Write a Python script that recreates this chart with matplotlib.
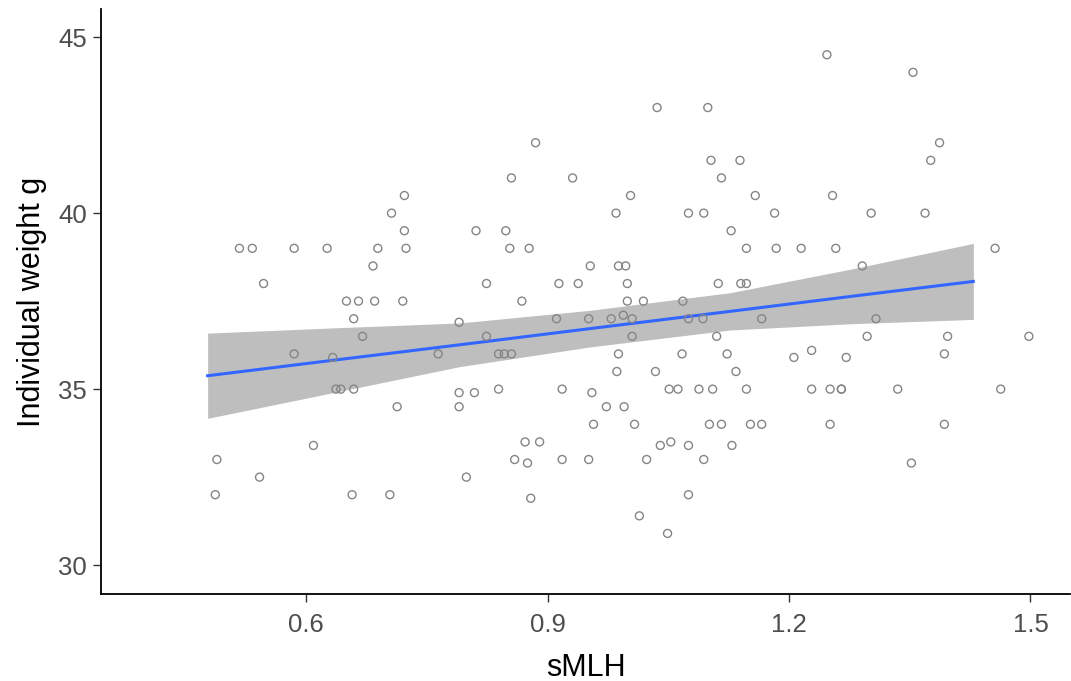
import numpy as np
import matplotlib.pyplot as plt

plt.rcParams['font.family'] = ['Liberation Sans', 'DejaVu Sans']

# sMLH vs individual weight (g)
smlh = [0.722, 0.706, 0.722, 0.517, 0.533, 0.585, 0.626, 0.689, 0.724, 0.683,
        0.547, 0.650, 0.665, 0.685, 0.720, 0.659, 0.670, 0.585, 0.633, 0.637,
        0.643, 0.659, 0.713, 0.609, 0.489, 0.542, 0.487, 0.657, 0.704,
        1.036, 1.099, 0.885, 0.855, 0.931, 1.103, 1.116, 1.003, 0.985, 1.075,
        1.094, 1.128, 0.811, 0.848, 0.853, 0.877, 0.953, 0.988, 0.997, 0.824,
        0.914, 0.938, 0.999, 1.112, 0.868, 0.999, 1.019, 1.068, 0.790, 0.911,
        0.951, 0.979, 0.994, 1.005, 1.075, 1.093, 0.824, 1.005, 1.110, 0.764,
        0.839, 0.846, 0.855, 0.988, 1.067, 1.123, 0.986, 1.034, 0.790, 0.809,
        0.839, 0.918, 0.955, 1.051, 1.062, 1.088, 1.105, 0.790, 0.973, 0.995,
        0.957, 1.008, 1.101, 1.116, 0.872, 0.890, 1.040, 1.053, 1.075, 1.129,
        0.859, 0.875, 0.918, 0.951, 1.023, 1.094, 0.799, 0.879, 1.075, 1.014,
        1.049,
        1.247, 1.354, 1.387, 1.376, 1.139, 1.158, 1.254, 1.182, 1.302, 1.369,
        1.147, 1.184, 1.215, 1.258, 1.456, 1.291, 1.140, 1.147, 1.166, 1.308,
        1.297, 1.397, 1.498, 1.228, 1.206, 1.271, 1.393, 1.134, 1.147, 1.228,
        1.251, 1.265, 1.265, 1.335, 1.463, 1.152, 1.166, 1.251, 1.393, 1.352]
weight = [40.5, 40.0, 39.5, 39.0, 39.0, 39.0, 39.0, 39.0, 39.0, 38.5,
          38.0, 37.5, 37.5, 37.5, 37.5, 37.0, 36.5, 36.0, 35.9, 35.0,
          35.0, 35.0, 34.5, 33.4, 33.0, 32.5, 32.0, 32.0, 32.0,
          43.0, 43.0, 42.0, 41.0, 41.0, 41.5, 41.0, 40.5, 40.0, 40.0,
          40.0, 39.5, 39.5, 39.5, 39.0, 39.0, 38.5, 38.5, 38.5, 38.0,
          38.0, 38.0, 38.0, 38.0, 37.5, 37.5, 37.5, 37.5, 36.9, 37.0,
          37.0, 37.0, 37.1, 37.0, 37.0, 37.0, 36.5, 36.5, 36.5, 36.0,
          36.0, 36.0, 36.0, 36.0, 36.0, 36.0, 35.5, 35.5, 34.9, 34.9,
          35.0, 35.0, 34.9, 35.0, 35.0, 35.0, 35.0, 34.5, 34.5, 34.5,
          34.0, 34.0, 34.0, 34.0, 33.5, 33.5, 33.4, 33.5, 33.4, 33.4,
          33.0, 32.9, 33.0, 33.0, 33.0, 33.0, 32.5, 31.9, 32.0, 31.4,
          30.9,
          44.5, 44.0, 42.0, 41.5, 41.5, 40.5, 40.5, 40.0, 40.0, 40.0,
          39.0, 39.0, 39.0, 39.0, 39.0, 38.5, 38.0, 38.0, 37.0, 37.0,
          36.5, 36.5, 36.5, 36.1, 35.9, 35.9, 36.0, 35.5, 35.0, 35.0,
          35.0, 35.0, 35.0, 35.0, 35.0, 34.0, 34.0, 34.0, 34.0, 32.9]

# linear fit with 95% confidence band
fit_x = [0.4775, 0.6335, 0.791, 0.953, 1.127, 1.279, 1.429]
fit_y = [35.38, 35.82, 36.26, 36.72, 37.21, 37.64, 38.06]
fit_lo = [34.17, 34.90, 35.64, 36.20, 36.68, 36.86, 36.98]
fit_hi = [36.59, 36.74, 36.88, 37.24, 37.74, 38.42, 39.14]

fig = plt.figure(figsize=(10.71, 6.81), dpi=100)
ax = fig.add_axes([0.0943, 0.1278, 0.9047, 0.859])

ax.fill_between(fit_x, fit_lo, fit_hi, color="#bebebe", lw=0, zorder=1)
ax.plot(fit_x, fit_y, color="#3366ff", lw=2.2, zorder=2)
ax.scatter(smlh, weight, s=33, facecolors="none", edgecolors="#858585",
           linewidths=1.0, zorder=3)

ax.set_xlim(0.345, 1.549)
ax.set_ylim(29.18, 45.8)
ax.set_xticks([0.6, 0.9, 1.2, 1.5])
ax.set_yticks([30, 35, 40, 45])

for s in ["top", "right"]:
    ax.spines[s].set_visible(False)
for s in ["left", "bottom"]:
    ax.spines[s].set_linewidth(1.3)
    ax.spines[s].set_color("black")

ax.tick_params(axis="both", direction="out", length=6, width=1.0,
               color="#333333", labelcolor="#4d4d4d", labelsize=18.5)
ax.tick_params(axis="x", pad=8)
ax.tick_params(axis="y", pad=4)

ax.set_xlabel("sMLH", fontsize=22, labelpad=11)
ax.set_ylabel("Individual weight g", fontsize=22, labelpad=8)

fig.savefig("out.png", dpi=100)
